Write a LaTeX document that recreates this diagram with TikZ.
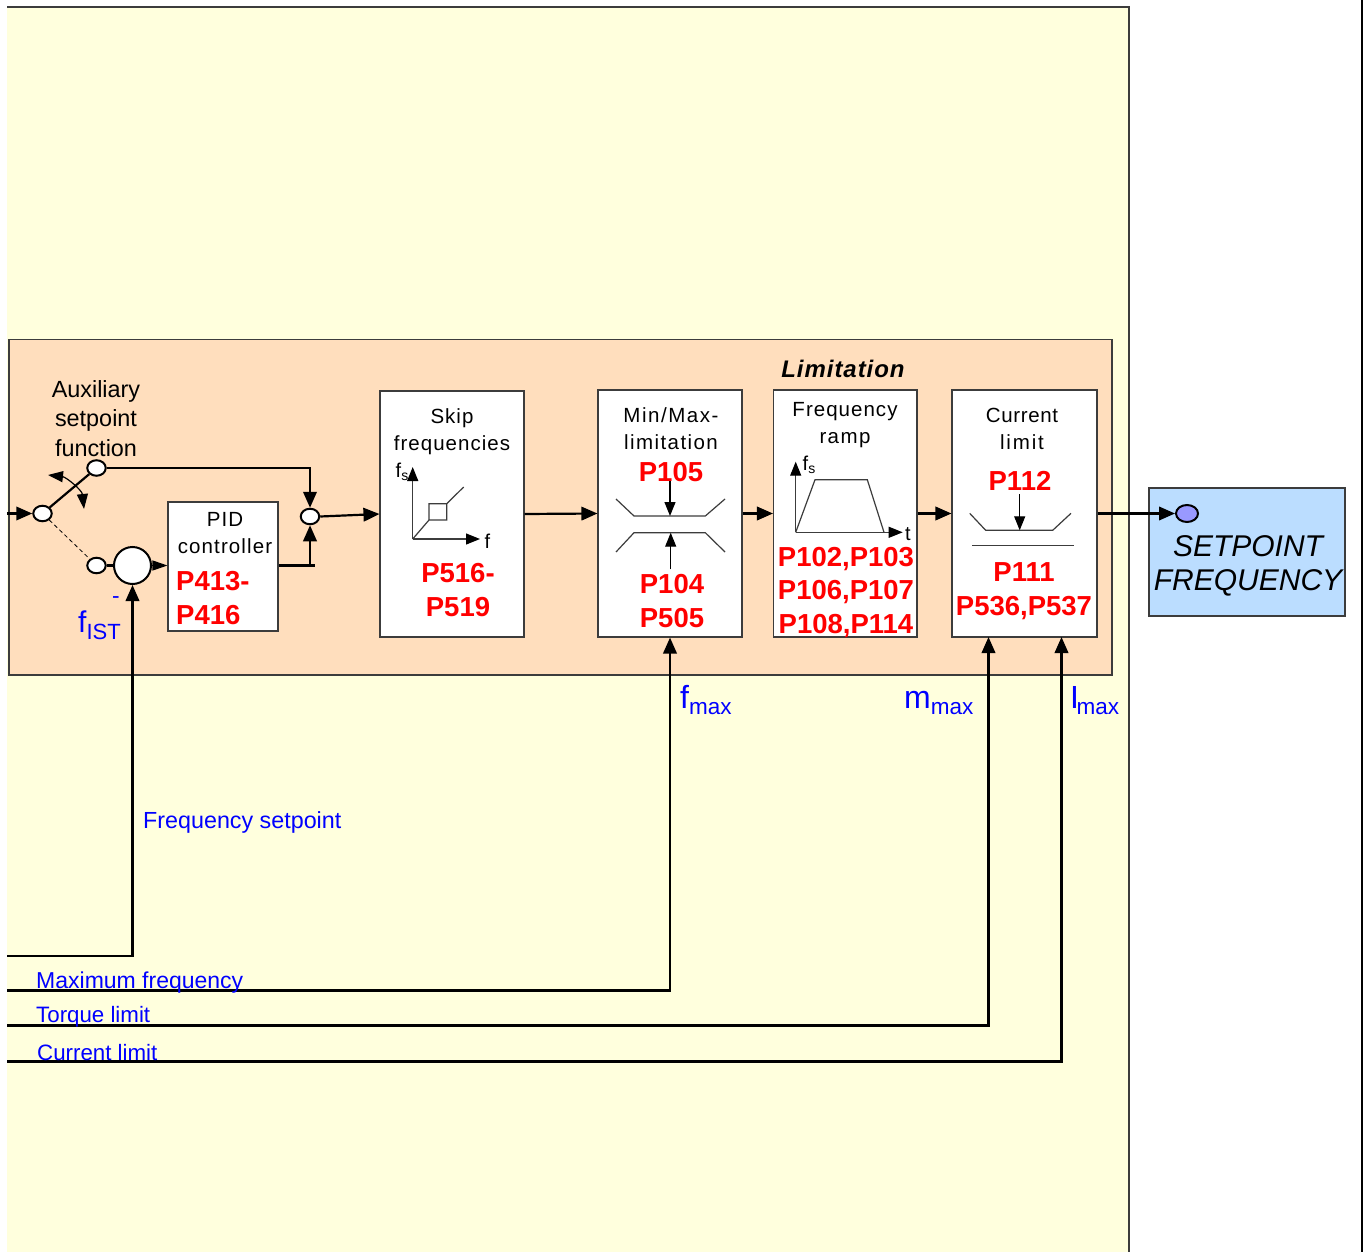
\documentclass[tikz,border=0pt]{standalone}
\usepackage{fontspec}
\setmainfont{Liberation Sans}
\usetikzlibrary{arrows.meta,shapes.geometric}
\definecolor{panelyellow}{HTML}{FFFFDD}
\definecolor{panelorange}{HTML}{FFDEBD}
\definecolor{panelblue}{HTML}{BBDDFF}
\definecolor{portpurple}{HTML}{9999FF}
\definecolor{edgegrey}{HTML}{3C3C3C}
\newcommand{\fsz}[2]{\fontsize{#1}{#2}\selectfont}
\newcommand{\lsp}[2]{{\addfontfeature{LetterSpace=#1}#2}}
\newcommand{\bigsub}[3]{{\fsz{#1}{#1}#2}\raisebox{-6pt}{\fsz{22.5}{24}#3}}
\newcommand{\tinysub}[2]{{\fsz{20}{20}#1}\raisebox{-3pt}{\fsz{14}{14}#2}}
\tikzset{
  x=1pt,y=-1pt,
  bx/.style={draw=edgegrey,line width=1.1pt,fill=white,inner sep=0pt},
  port/.style={ellipse,draw=black,line width=2pt,fill=white,inner sep=0pt,minimum width=18.5pt,minimum height=15.5pt},
  wire/.style={draw=black,line width=2.2pt},
  thinw/.style={draw=black,line width=1.2pt},
  tip/.style={-{Triangle[length=16pt,width=13.5pt]}},
  tipsmall/.style={-{Triangle[length=14pt,width=11pt]}},
  axisline/.style={draw=edgegrey,line width=1.2pt,-{Triangle[length=14pt,width=11pt,color=black,fill=black]}},
  lbl/.style={inner sep=0pt,anchor=base,align=center},
  blk/.style={lbl,text=black,font=\fsz{20.5}{27}},
  red/.style={lbl,text=red,font=\fsz{27.5}{34}\bfseries},
  blu/.style={inner sep=0pt,anchor=base west,text=blue,font=\fsz{22.7}{27}},
}
\begin{document}
\begin{tikzpicture}
\useasboundingbox (0,0) rectangle (1371,1252);
\fill[white] (0,0) rectangle (1371,1252);
\fill[panelyellow] (7,7) rectangle (1129,1252);
\draw[edgegrey,line width=1.1pt] (7,7) -- (1129,7) -- (1129,1252);
\draw[black,line width=2.4pt] (1362,0) -- (1362,1252);

\node[bx,fill=panelorange,minimum width=1103pt,minimum height=335.5pt] (limitpanel) at (560.5,507.25) {};
\node[bx,fill=panelblue,minimum width=196pt,minimum height=128pt] (outbox) at (1247,552) {};
\node[bx,minimum width=110pt,minimum height=129pt] (pid) at (223,566.5) {};
\node[bx,minimum width=144pt,minimum height=246pt] (skip) at (452,514) {};
\node[bx,minimum width=144pt,minimum height=247pt] (minmax) at (670,513.5) {};
\node[bx,minimum width=143.5pt,minimum height=247pt] (ramp) at (845.25,513.5) {};
\node[bx,minimum width=145pt,minimum height=247pt] (curr) at (1024.5,513.5) {};

% ports
\node[port] (sw) at (42.5,513.5) {};
\node[port] (auxtop) at (96.5,468) {};
\node[port] (auxlow) at (96.5,565.5) {};
\node[port,circle,minimum width=37pt,minimum height=37pt] (sum) at (132.5,565.5) {};
\node[port] (merge) at (310,516.5) {};
\node[port,fill=portpurple,minimum width=22pt,minimum height=17pt] (setp) at (1187,513.5) {};

\coordinate (infeed) at (7,513.5);
\coordinate (pidstub) at (315,565.5);
\coordinate (pidjoin) at (310,565.5);
\coordinate (fbset) at (7,956);
\coordinate (fbmax) at (7,990.5);
\coordinate (fbtorque) at (7,1025.5);
\coordinate (fbcurr) at (7,1061.5);
\coordinate (currA) at (988.5,637);
\coordinate (currB) at (1061.5,637);
\coordinate (swingA) at (48,475);
\coordinate (swingB) at (84,509);

% connectors
\draw[wire,tip] (infeed) -- (sw.west);
\draw[wire] (sw) -- (auxtop);
\draw[thinw,dash pattern=on 4pt off 3pt,line width=0.8pt] (sw) -- (auxlow);
\draw[thinw,{Triangle[length=15pt,width=11pt]}-{Triangle[length=15pt,width=11pt]}] (swingA) .. controls (66,477) and (82,490) .. (swingB);
\draw[wire,tip] (auxtop) -| (merge.north);
\draw[wire] (auxlow) -- (sum);
\draw[thinw,-{Triangle[length=15pt,width=10pt]}] (sum) -- (pid.west |- sum);
\draw[wire] (pid.east |- pidstub) -- (pidstub);
\draw[wire,tip] (pidjoin) -- (merge.south);
\draw[wire,tip] (merge.east) -- (skip.west);
\draw[wire,tip] (skip.east) -- (minmax.west);
\draw[wire,tip] (minmax.east) -- (ramp.west);
\draw[wire,tip] (ramp.east) -- (curr.west);
\draw[wire,tip] (curr.east) -- (setp.west);
\draw[wire,tip] (fbset) -| (sum.south);
\draw[wire,tip] (fbmax) -| (minmax.south);
\draw[wire,tip] (fbtorque) -| (currA);
\draw[wire,tip] (fbcurr) -| (currB);

% skip graph
\draw[thinw,draw=edgegrey] (412.7,539) -- (429,520) rectangle (446.7,503.7) -- (463.7,487);
\draw[axisline] (412.7,539) -- (412.7,467);
\draw[axisline] (412.7,539) -- (480,539);
% limitation graph
\draw[thinw,draw=edgegrey] (616,499) -- (634,516) -- (705.3,516) -- (725,499);
\draw[thinw,draw=edgegrey] (616,552) -- (634,532.7) -- (705.3,532.7) -- (725,552);
\draw[thinw,tipsmall] (670,480) -- (670,516);
\draw[thinw,tipsmall] (670.7,569.3) -- (670.7,532.7);
% ramp graph
\draw[thinw,draw=edgegrey] (795.7,532.3) -- (815,479.7) -- (867.3,479.7) -- (884,532.3);
\draw[axisline] (795.7,532.3) -- (795.7,461.7);
\draw[axisline] (795.7,532.3) -- (902.7,532.3);
% current graph
\draw[thinw,draw=edgegrey] (969.7,513.3) -- (985.7,530.3) -- (1052.7,530.3) -- (1071,513.3);
\draw[thinw,tipsmall] (1019.7,494.3) -- (1019.7,530.3);
\draw[thinw,draw=edgegrey] (972,545.7) -- (1074.3,545.7);

% black text
\node[blk,font=\fsz{23.4}{29.5}] (auxtext) at (96,456) {Auxiliary\\setpoint\\function};
\node[blk] (pidtext) at (225,553) {\lsp{5.5}{PID}\\\lsp{5.5}{controller}};
\node[blk] (skiptext) at (452,450) {\lsp{5}{Skip}\\\lsp{5}{frequencies}};
\node[blk] (minmaxtext) at (671,449) {\lsp{7.5}{Min/Max-}\\\lsp{7}{limitation}};
\node[blk] (ramptext) at (845,443.5) {\lsp{5}{Frequency}\\\lsp{7}{ramp}};
\node[blk] (currtext) at (1022,449) {\lsp{3}{Current}\\\lsp{9}{limit}};
\node[lbl,font=\fsz{24}{30}\bfseries\itshape] (limtext) at (843,377) {\lsp{4}{Limitation}};
\node[lbl,font=\fsz{30}{34}\itshape] (outtext) at (1248,590) {SETPOINT\\FREQUENCY};
\node[lbl] (fsA) at (402,477) {\tinysub{f}{s}};
\node[lbl,font=\fsz{20}{20}] (fA) at (487.5,548) {f};
\node[lbl] (fsB) at (809,470) {\tinysub{f}{s}};
\node[lbl,font=\fsz{20}{20}] (tA) at (908,540) {t};

% red text
\node[red,anchor=base west,align=left] (redpid) at (176,624) {P413-\\P416};
\node[red] (redskip) at (458,616) {P516-\\P519};
\node[red] (redmax) at (671,481) {P105};
\node[red] (redmin) at (672,627) {P104\\P505};
\node[red,font=\fsz{27.5}{33.5}\bfseries] (redramp) at (846,633) {P102,P103\\P106,P107\\P108,P114};
\node[red] (redcurA) at (1020,490) {P112};
\node[red] (redcurB) at (1024,615) {P111\\P536,P537};

% blue text
\node[blu,font=\fsz{23.3}{27}] (fsetp) at (143,828) {Frequency setpoint};
\node[blu,font=\fsz{23}{27}] (maxf) at (36,988) {Maximum frequency};
\node[blu,font=\fsz{22.3}{27}] (torq) at (36,1022) {Torque limit};
\node[blu,font=\fsz{22.3}{27}] (clim) at (37,1060) {Current limit};
\node[blu] (minus) at (112,603) {-};
\node[blu] (fist) at (78,632) {{\fsz{30}{30}f}\raisebox{-7pt}{\fsz{22}{22}IST}};
\node[blu] (fmax) at (680,708) {\bigsub{32}{f}{max}};
\node[blu] (mmax) at (904,708) {\bigsub{32}{m}{max}};
\node[blu] (imax) at (1070,708) {{\fsz{32}{32}I}\kern-2.5pt\raisebox{-6pt}{\fsz{22.5}{24}max}};
\end{tikzpicture}
\end{document}
